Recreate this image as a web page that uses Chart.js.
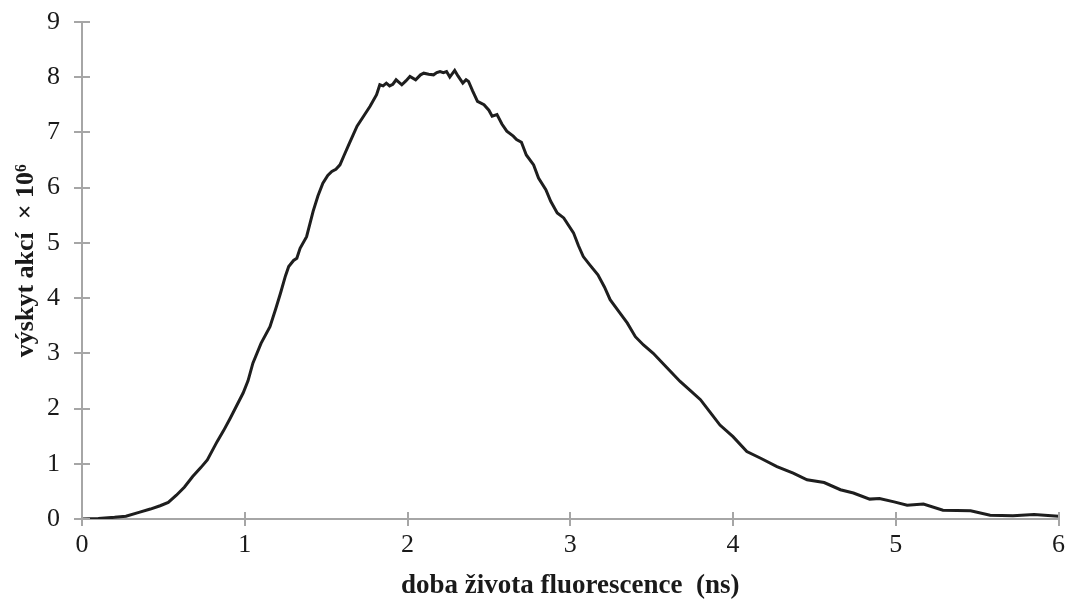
<!DOCTYPE html>
<html>
<head>
<meta charset="utf-8">
<script src="https://cdn.jsdelivr.net/npm/chart.js@4"></script>
<style>
  html, body { margin: 0; padding: 0; background: #fff; }
  #wrap { width: 1069px; height: 603px; }
</style>
</head>
<body>
<div id="wrap"><canvas id="lifetimeChart"></canvas></div>
<script>
// doba života (ns) a výskyt akcí (× 10^6)
var times = [0, 0.1, 0.2, 0.27, 0.35, 0.42, 0.48, 0.53, 0.58, 0.63, 0.68, 0.73, 0.77, 0.83, 0.87, 0.91, 0.95, 0.99,
  1.02, 1.05, 1.1, 1.155, 1.19, 1.22, 1.25, 1.27, 1.3, 1.32, 1.34, 1.38, 1.42, 1.45, 1.48, 1.51, 1.535, 1.56, 1.585,
  1.61, 1.64, 1.69, 1.73, 1.77, 1.81, 1.83, 1.85, 1.87, 1.89, 1.91, 1.93, 1.965, 1.99, 2.015, 2.05, 2.08, 2.1, 2.13,
  2.16, 2.18, 2.2, 2.22, 2.24, 2.26, 2.29, 2.31, 2.34, 2.36, 2.375, 2.4, 2.43, 2.47, 2.5, 2.52, 2.55, 2.58, 2.61,
  2.65, 2.67, 2.7, 2.73, 2.775, 2.805, 2.85, 2.88, 2.92, 2.96, 3.02, 3.05, 3.08, 3.12, 3.17, 3.21, 3.245, 3.3, 3.35,
  3.4, 3.45, 3.51, 3.59, 3.675, 3.74, 3.8, 3.86, 3.92, 4.0, 4.085, 4.17, 4.27, 4.37, 4.455, 4.56, 4.66, 4.74, 4.84,
  4.9, 4.99, 5.07, 5.17, 5.29, 5.46, 5.58, 5.72, 5.85, 6.0];
var counts = [0, 0.01, 0.03, 0.05, 0.12, 0.18, 0.24, 0.3, 0.43, 0.58, 0.77, 0.93, 1.07, 1.4, 1.6, 1.82, 2.05, 2.28,
  2.5, 2.82, 3.18, 3.48, 3.8, 4.09, 4.4, 4.57, 4.68, 4.72, 4.9, 5.11, 5.57, 5.85, 6.08, 6.22, 6.29, 6.33, 6.41,
  6.58, 6.78, 7.11, 7.29, 7.47, 7.68, 7.86, 7.84, 7.89, 7.84, 7.87, 7.95, 7.86, 7.93, 8.01, 7.95, 8.04, 8.07, 8.05,
  8.04, 8.08, 8.1, 8.08, 8.1, 8.0, 8.12, 8.02, 7.89, 7.95, 7.92, 7.75, 7.56, 7.5, 7.4, 7.29, 7.32, 7.15, 7.02,
  6.93, 6.87, 6.82, 6.59, 6.41, 6.17, 5.96, 5.75, 5.54, 5.45, 5.18, 4.95, 4.75, 4.6, 4.42, 4.2, 3.97, 3.75, 3.55,
  3.3, 3.15, 3.0, 2.75, 2.49, 2.32, 2.16, 1.93, 1.7, 1.49, 1.22, 1.1, 0.95, 0.83, 0.71, 0.66, 0.53, 0.47, 0.36,
  0.37, 0.31, 0.25, 0.27, 0.16, 0.15, 0.07, 0.06, 0.08, 0.05];
var xTicks = [0, 1, 2, 3, 4, 5, 6];
var yTicks = [0, 1, 2, 3, 4, 5, 6, 7, 8, 9];

var points = times.map(function(t, i) { return { x: t, y: counts[i] }; });

var axisColor = '#a6a6a6';

// vnitřní část značek na osách (v Excelu protínají osu)
var innerTicks = {
  id: 'innerTicks',
  afterDraw: function(chart) {
    var c = chart.ctx;
    var xs = chart.scales.x, ys = chart.scales.y;
    c.save();
    c.strokeStyle = axisColor;
    c.lineWidth = 2;
    c.beginPath();
    xTicks.forEach(function(v) {
      var px = Math.round(xs.getPixelForValue(v));
      c.moveTo(px, ys.bottom);
      c.lineTo(px, ys.bottom - 7);
    });
    yTicks.forEach(function(v) {
      var py = Math.round(ys.getPixelForValue(v));
      c.moveTo(xs.left, py);
      c.lineTo(xs.left + 8, py);
    });
    c.stroke();
    c.restore();
  }
};

var ctx = document.getElementById('lifetimeChart').getContext('2d');
var lifetimeChart = new Chart(ctx, {
  type: 'line',
  data: {
    datasets: [{
      data: points,
      borderColor: '#1e1e1e',
      borderWidth: 3,
      pointRadius: 0,
      fill: false,
      tension: 0
    }]
  },
  options: {
    responsive: true,
    maintainAspectRatio: false,
    animation: false,
    layout: { padding: { top: 0, right: 9, bottom: 0, left: 0 } },
    plugins: { legend: { display: false }, tooltip: { enabled: false } },
    scales: {
      x: {
        type: 'linear',
        min: 0, max: 6,
        afterBuildTicks: function(s) { s.ticks = xTicks.map(function(v) { return { value: v }; }); },
        afterFit: function(s) { s.height = 84; },
        border: { color: axisColor, width: 2 },
        grid: { drawOnChartArea: false, color: axisColor, lineWidth: 2, tickLength: 7 },
        ticks: { color: '#1a1a1a', font: { family: 'Liberation Serif', size: 26 }, padding: 4 },
        title: {
          display: true,
          text: 'doba života fluorescence  (ns)',
          color: '#1a1a1a',
          font: { family: 'Liberation Serif', size: 27, weight: 'bold' },
          padding: { top: 4, bottom: 1 }
        }
      },
      y: {
        min: 0, max: 9,
        afterBuildTicks: function(s) { s.ticks = yTicks.map(function(v) { return { value: v }; }); },
        afterFit: function(s) { s.width = 82; },
        border: { color: axisColor, width: 2 },
        grid: { drawOnChartArea: false, color: axisColor, lineWidth: 2, tickLength: 8 },
        ticks: { color: '#1a1a1a', font: { family: 'Liberation Serif', size: 26, lineHeight: 0.6 }, padding: 14 },
        title: {
          display: true,
          text: '\u00a0\u00a0\u00a0výskyt akcí  × 10⁶',
          color: '#1a1a1a',
          font: { family: 'Liberation Serif', size: 26, weight: 'bold' },
          padding: { top: 11, bottom: 4 }
        }
      }
    }
  },
  plugins: [innerTicks]
});
</script>
</body>
</html>
